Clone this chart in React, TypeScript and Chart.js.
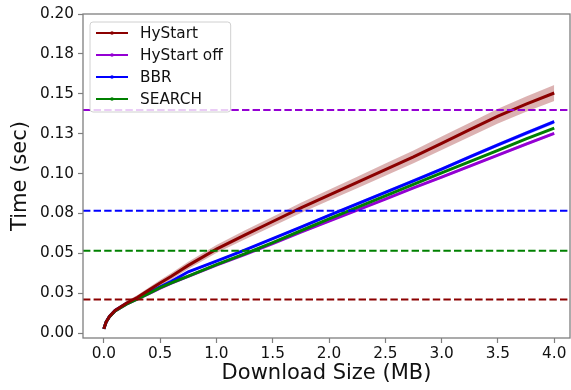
import React, { useEffect, useRef } from 'react';
import { Chart, registerables } from 'chart.js';

Chart.register(...registerables);

// ---- data ----
const sizesMB = [0, 0.02, 0.05, 0.1, 0.2, 0.3, 0.4, 0.5, 0.6, 0.75, 1.0, 1.25, 1.5, 1.75, 2.0, 2.25, 2.5, 2.75, 3.0, 3.25, 3.5, 3.75, 4.0];

const hystartTime = [0.0027, 0.007, 0.0105, 0.0143, 0.0188, 0.0225, 0.027, 0.0315, 0.0357, 0.0425, 0.0527, 0.0615, 0.070, 0.0785, 0.0865, 0.0945, 0.1025, 0.1105, 0.119, 0.1275, 0.136, 0.1435, 0.1505];
const hystartSpread = [0.0005, 0.0006, 0.0008, 0.001, 0.0012, 0.0014, 0.0016, 0.0018, 0.002, 0.0022, 0.0025, 0.0028, 0.003, 0.0032, 0.0034, 0.0036, 0.0038, 0.004, 0.0042, 0.0044, 0.0046, 0.0048, 0.005];

const hystartOffTime = [0.0027, 0.007, 0.0103, 0.014, 0.0182, 0.0215, 0.0248, 0.0283, 0.0314, 0.0356, 0.0426, 0.0493, 0.0562, 0.0633, 0.0702, 0.0771, 0.084, 0.091, 0.0978, 0.1047, 0.1116, 0.1185, 0.1252];
const hystartOffSpread = [0.0002, 0.0002, 0.0002, 0.0003, 0.0003, 0.0003, 0.0004, 0.0004, 0.0004, 0.0005, 0.0005, 0.0005, 0.0006, 0.0006, 0.0006, 0.0007, 0.0007, 0.0007, 0.0008, 0.0008, 0.0008, 0.0009, 0.0009];

const bbrTime = [0.0027, 0.007, 0.0105, 0.0143, 0.0186, 0.022, 0.0255, 0.029, 0.0325, 0.0385, 0.0452, 0.052, 0.0592, 0.0665, 0.0738, 0.081, 0.0883, 0.0955, 0.1028, 0.1105, 0.118, 0.1253, 0.1325];
const bbrSpread = [0.0002, 0.0003, 0.0003, 0.0004, 0.0004, 0.0005, 0.0005, 0.0006, 0.0006, 0.0007, 0.0007, 0.0008, 0.0008, 0.0009, 0.0009, 0.001, 0.001, 0.0011, 0.0011, 0.0012, 0.0012, 0.0013, 0.0013];

const searchTime = [0.0027, 0.007, 0.0103, 0.014, 0.0182, 0.0215, 0.0249, 0.0285, 0.0316, 0.0358, 0.043, 0.0497, 0.0567, 0.0642, 0.0716, 0.0788, 0.086, 0.0932, 0.1004, 0.1075, 0.1146, 0.1217, 0.1285];

const hystartThreshold = 0.0211;
const hystartOffThreshold = 0.1398;
const bbrThreshold = 0.0767;
const searchThreshold = 0.0516;

const seriesNames = ['HyStart', 'HyStart off', 'BBR', 'SEARCH'];
const seriesColors = ['#8b0000', '#9400d3', '#0000ff', '#008000'];

const xTickValues = [0, 0.5, 1.0, 1.5, 2.0, 2.5, 3.0, 3.5, 4.0];
const xTickLabels = ['0.0', '0.5', '1.0', '1.5', '2.0', '2.5', '3.0', '3.5', '4.0'];
const yTickValues = [0, 0.025, 0.05, 0.075, 0.1, 0.125, 0.15, 0.175, 0.2];
const yTickLabels = ['0.00', '0.03', '0.05', '0.08', '0.10', '0.13', '0.15', '0.18', '0.20'];

const X_MIN = -0.185;
const X_MAX = 4.14;
const Y_MIN = -0.003;
const Y_MAX = 0.2;

const FONT = '"DejaVu Sans", sans-serif';
const SPINE = '#7f7f7f';

function pts(ys: number[], offs?: number[], sign = 0) {
  return sizesMB.map((x, i) => ({ x, y: ys[i] + (offs ? sign * offs[i] : 0) }));
}

function hline(y: number) {
  return [{ x: X_MIN, y }, { x: X_MAX, y }];
}

const framePlugin = {
  id: 'frame',
  afterDatasetsDraw(chart: any) {
    const { ctx, chartArea: a } = chart;
    ctx.save();
    ctx.strokeStyle = SPINE;
    ctx.lineWidth = 1.3;
    ctx.strokeRect(a.left, a.top, a.right - a.left, a.bottom - a.top);
    ctx.restore();
  },
};

const legendPlugin = {
  id: 'mplLegend',
  afterDraw(chart: any) {
    const { ctx, chartArea: a } = chart;
    ctx.save();
    const fs = 15.3;
    ctx.font = `${fs}px ${FONT}`;
    const left = a.left + 7;
    const top = a.top + 8;
    const rowH = 22;
    const textX = left + 50;
    let maxW = 0;
    seriesNames.forEach((n) => { maxW = Math.max(maxW, ctx.measureText(n).width); });
    const w = textX - left + maxW + 8;
    const h = rowH * seriesNames.length + 2;
    ctx.beginPath();
    ctx.roundRect(left, top, w, h, 3);
    ctx.fillStyle = 'rgba(255,255,255,0.8)';
    ctx.fill();
    ctx.strokeStyle = '#d0d0d0';
    ctx.lineWidth = 1;
    ctx.stroke();
    seriesNames.forEach((n, i) => {
      const cy = top + 11 + i * rowH;
      ctx.strokeStyle = seriesColors[i];
      ctx.lineWidth = 2;
      ctx.beginPath();
      ctx.moveTo(left + 6, cy);
      ctx.lineTo(left + 38, cy);
      ctx.stroke();
      ctx.fillStyle = seriesColors[i];
      ctx.beginPath();
      ctx.arc(left + 22, cy, 1.8, 0, Math.PI * 2);
      ctx.fill();
      ctx.fillStyle = '#111';
      ctx.textBaseline = 'middle';
      ctx.textAlign = 'left';
      ctx.fillText(n, textX, cy + 1);
    });
    ctx.restore();
  },
};

export default function App() {
  const ref = useRef<HTMLCanvasElement | null>(null);

  useEffect(() => {
    if (!ref.current) return;
    Chart.defaults.font.family = FONT;
    const chart = new Chart(ref.current, {
      type: 'line',
      data: {
        datasets: [
          // threshold lines (on top)
          { data: hline(hystartOffThreshold), borderColor: seriesColors[1], borderWidth: 2, borderDash: [7.4, 3.2], pointRadius: 0, order: 0 },
          { data: hline(bbrThreshold), borderColor: seriesColors[2], borderWidth: 2, borderDash: [7.4, 3.2], pointRadius: 0, order: 0 },
          { data: hline(searchThreshold), borderColor: seriesColors[3], borderWidth: 2, borderDash: [7.4, 3.2], pointRadius: 0, order: 0 },
          { data: hline(hystartThreshold), borderColor: seriesColors[0], borderWidth: 2, borderDash: [7.4, 3.2], pointRadius: 0, order: 0 },
          // main curves
          { data: pts(hystartTime), borderColor: seriesColors[0], borderWidth: 3, pointRadius: 0, order: 1 },
          { data: pts(searchTime), borderColor: seriesColors[3], borderWidth: 3, pointRadius: 0, order: 2 },
          { data: pts(bbrTime), borderColor: seriesColors[2], borderWidth: 3, pointRadius: 0, order: 3 },
          { data: pts(hystartOffTime), borderColor: seriesColors[1], borderWidth: 3, pointRadius: 0, order: 4 },
          // confidence bands
          { data: pts(hystartTime, hystartSpread, 1), borderWidth: 0, pointRadius: 0, fill: '+1', backgroundColor: 'rgba(139,0,0,0.3)', order: 5 },
          { data: pts(hystartTime, hystartSpread, -1), borderWidth: 0, pointRadius: 0, fill: false, order: 5 },
          { data: pts(bbrTime, bbrSpread, 1), borderWidth: 0, pointRadius: 0, fill: '+1', backgroundColor: 'rgba(0,0,255,0.3)', order: 6 },
          { data: pts(bbrTime, bbrSpread, -1), borderWidth: 0, pointRadius: 0, fill: false, order: 6 },
          { data: pts(hystartOffTime, hystartOffSpread, 1), borderWidth: 0, pointRadius: 0, fill: '+1', backgroundColor: 'rgba(148,0,211,0.3)', order: 7 },
          { data: pts(hystartOffTime, hystartOffSpread, -1), borderWidth: 0, pointRadius: 0, fill: false, order: 7 },
        ] as any,
      },
      options: {
        animation: false,
        responsive: false,
        devicePixelRatio: 1,
        parsing: false,
        layout: { padding: { left: 0, right: 1, top: 14, bottom: 0 } },
        plugins: { legend: { display: false }, tooltip: { enabled: false } },
        elements: { line: { tension: 0 } },
        scales: {
          x: {
            type: 'linear',
            min: X_MIN,
            max: X_MAX,
            afterBuildTicks: (s: any) => { s.ticks = xTickValues.map((v) => ({ value: v })); },
            afterFit: (s: any) => { s.height = 52; },
            ticks: {
              autoSkip: false,
              maxRotation: 0,
              padding: 2,
              color: '#111',
              font: { size: 15.3, family: FONT },
              callback: (_v: any, i: number) => xTickLabels[i],
            },
            grid: { drawOnChartArea: false, drawTicks: true, tickLength: 5, tickColor: SPINE, tickWidth: 1.2 },
            border: { display: false },
            title: { display: true, text: 'Download Size (MB)', color: '#111', font: { size: 21, family: FONT }, padding: { top: 0, bottom: 4 } },
          },
          y: {
            type: 'linear',
            min: Y_MIN,
            max: Y_MAX,
            afterBuildTicks: (s: any) => { s.ticks = yTickValues.map((v) => ({ value: v })); },
            afterFit: (s: any) => { s.width = 83; },
            ticks: {
              autoSkip: false,
              padding: 4,
              color: '#111',
              font: { size: 15.3, family: FONT },
              callback: (_v: any, i: number) => yTickLabels[i],
            },
            grid: { drawOnChartArea: false, drawTicks: true, tickLength: 5, tickColor: SPINE, tickWidth: 1.2 },
            border: { display: false },
            title: { display: true, text: 'Time (sec)', color: '#111', font: { size: 21, family: FONT }, padding: { top: 8, bottom: 0 } },
          },
        },
      } as any,
      plugins: [framePlugin, legendPlugin],
    });
    return () => chart.destroy();
  }, []);

  return (
    <div style={{ position: 'fixed', left: 0, top: 0, width: 571, height: 390, background: '#fff' }}>
      <canvas ref={ref} width={571} height={390} style={{ width: 571, height: 390, display: 'block' }} />
    </div>
  );
}
